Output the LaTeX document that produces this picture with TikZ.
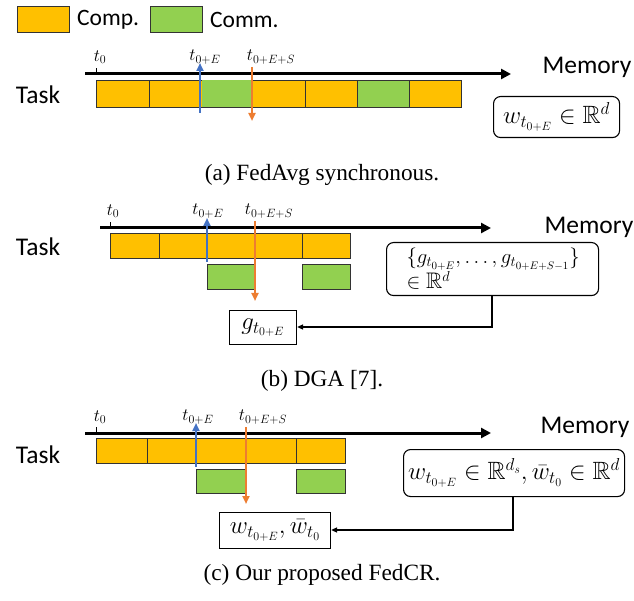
\documentclass[tikz,border=0pt]{standalone}
\usepackage{amssymb}
\usepackage{fontspec}
\setmainfont{Liberation Serif}
\setsansfont{Carlito}
\usetikzlibrary{arrows.meta}
\definecolor{compc}{HTML}{FFC000}
\definecolor{commc}{HTML}{92D050}
\definecolor{bluea}{HTML}{4472C4}
\definecolor{orangea}{HTML}{ED7D31}
\tikzset{
  comp/.style={draw=black!80, line width=0.8pt, fill=compc, inner sep=0, anchor=north west},
  comm/.style={draw=black!80, line width=0.8pt, fill=commc, inner sep=0, anchor=north west},
  axis/.style={line width=3pt, -{Triangle[length=10pt,width=10pt]}},
  tick/.style={line width=0.6pt},
  upar/.style={bluea, line width=2.2pt, -{Triangle[length=8pt,width=7pt]}},
  downar/.style={orangea, line width=2.2pt, -{Triangle[length=8pt,width=7pt]}},
  lbl/.style={font=\sffamily\fontsize{25.5}{30}\selectfont, inner sep=0},
  leg/.style={font=\sffamily\fontsize{23.5}{27}\selectfont, inner sep=0, anchor=west},
  tl/.style={font=\fontsize{17}{20}\selectfont, inner sep=0},
  mem/.style={draw, line width=1.1pt, rounded corners=7pt, inner sep=0, anchor=north west, font=\fontsize{25}{29}\selectfont},
  res/.style={draw, line width=1.1pt, inner sep=0, anchor=north west, font=\fontsize{25}{29}\selectfont},
  link/.style={line width=1.4pt, -{Triangle[length=6pt,width=5pt]}},
  captxt/.style={font=\fontsize{23.3}{27}\selectfont, inner sep=0}
}
\begin{document}
\begin{tikzpicture}[x=1pt,y=-1pt]
\useasboundingbox (0,0) rectangle (634,601);
% legend
\node[comp, minimum width=52, minimum height=26] (lc) at (17,6) {};
\node[leg] (lct) at (77,20) {Comp.};
\node[comm, minimum width=52, minimum height=26] (lg) at (150,6) {};
\node[leg] (lgt) at (210,20) {Comm.};

% ---------- (a)
\coordinate (a0) at (85,74);
\coordinate (a1) at (511,74);
\draw[axis] (a0) -- (a1);
\draw[tick] (96,74) -- (96,68);
\node[tl] (at0) at (100,57) {$t_0$};
\node[tl] (atE) at (205,57) {$t_{0+E}$};
\node[tl] (atES) at (271,57) {$t_{0+E+S}$};
\node[lbl] (atask) at (38,95) {Task};
\node[lbl] (amem) at (587,67) {Memory};
\node[comp, minimum width=53, minimum height=27] (ab1) at (96,80) {};
\node[comp, minimum width=156, minimum height=27] (ab2) at (149,80) {};
\fill[commc] (202,80.4) rectangle (252,106.6);
\node[comp, minimum width=52, minimum height=27] (ab3) at (305,80) {};
\node[comm, minimum width=52, minimum height=27] (ab4) at (357,80) {};
\node[comp, minimum width=52, minimum height=27] (ab5) at (409,80) {};
\coordinate (aub) at (200,113);
\coordinate (aut) at (200,63);
\draw[upar] (aub) -- (aut);
\coordinate (adt) at (252,67);
\coordinate (adb) at (252,121);
\draw[downar] (adt) -- (adb);
\node[mem, minimum width=126, minimum height=41] (amb) at (493,96) {$w_{t_{0+E}}\in\mathbb{R}^d$};
\node[captxt] (capa) at (322,175) {(a) FedAvg synchronous.};

% ---------- (b)
\coordinate (b0) at (100,228);
\coordinate (b1) at (491,228);
\draw[axis] (b0) -- (b1);
\draw[tick] (110,228) -- (110,222);
\node[tl] (bt0) at (113,211) {$t_0$};
\node[tl] (btE) at (208,211) {$t_{0+E}$};
\node[tl] (btES) at (269,211) {$t_{0+E+S}$};
\node[lbl] (btask) at (38,247) {Task};
\node[lbl] (bmem) at (589,227) {Memory};
\node[comp, minimum width=49, minimum height=25] (bb1) at (110,233) {};
\node[comp, minimum width=143, minimum height=25] (bb2) at (159,233) {};
\node[comp, minimum width=48, minimum height=25] (bb3) at (302,233) {};
\node[comm, minimum width=47, minimum height=25] (bg1) at (207,264) {};
\node[comm, minimum width=48, minimum height=25] (bg2) at (302,264) {};
\coordinate (bub) at (207,262);
\coordinate (but) at (207,218);
\draw[upar] (bub) -- (but);
\coordinate (bdt) at (255,221);
\coordinate (bdb) at (255,301);
\draw[downar] (bdt) -- (bdb);
\node[mem, minimum width=212, minimum height=53, text width=196, inner xsep=0, align=left,
      font=\fontsize{22.5}{19}\selectfont] (bmb) at (386,242)
  {\hspace*{12pt}$\{g_{t_{0+E}},\ldots,g_{t_{0+E+S-1}}\}$\\ \hspace*{12pt}$\in\mathbb{R}^d$};
\node[res, minimum width=67, minimum height=34] (bgb) at (229,310) {$g_{t_{0+E}}$};
\coordinate (bc) at (492,327);
\draw[link] (bmb.south -| bc) -- (bc) -- (bgb.east |- bc);
\node[captxt] (capb) at (322,381) {(b) DGA [7].};

% ---------- (c)
\coordinate (c0) at (85,433);
\coordinate (c1) at (491,433);
\draw[axis] (c0) -- (c1);
\draw[tick] (96,433) -- (96,427);
\node[tl] (ct0) at (100,417) {$t_0$};
\node[tl] (ctE) at (198,417) {$t_{0+E}$};
\node[tl] (ctES) at (263,417) {$t_{0+E+S}$};
\node[lbl] (ctask) at (38,455) {Task};
\node[lbl] (cmem) at (585,427) {Memory};
\node[comp, minimum width=51, minimum height=25] (cb1) at (96,438) {};
\node[comp, minimum width=149, minimum height=25] (cb2) at (147,438) {};
\node[comp, minimum width=49, minimum height=25] (cb3) at (296,438) {};
\node[comm, minimum width=50, minimum height=24] (cg1) at (196,469) {};
\node[comm, minimum width=49, minimum height=24] (cg2) at (296,469) {};
\coordinate (cub) at (196,467);
\coordinate (cut) at (196,423);
\draw[upar] (cub) -- (cut);
\coordinate (cdt) at (246,427);
\coordinate (cdb) at (246,504);
\draw[downar] (cdt) -- (cdb);
\node[mem, minimum width=221, minimum height=47] (cmb) at (403,449) {$w_{t_{0+E}}\in\mathbb{R}^{d_s},\bar{w}_{t_0}\in\mathbb{R}^d$};
\node[res, minimum width=111, minimum height=36] (cwb) at (219,512) {$w_{t_{0+E}},\bar{w}_{t_0}$};
\coordinate (cc) at (513,530);
\draw[link] (cmb.south -| cc) -- (cc) -- (cwb.east |- cc);
\node[captxt] (capc) at (322,575) {(c) Our proposed FedCR.};
\end{tikzpicture}
\end{document}
